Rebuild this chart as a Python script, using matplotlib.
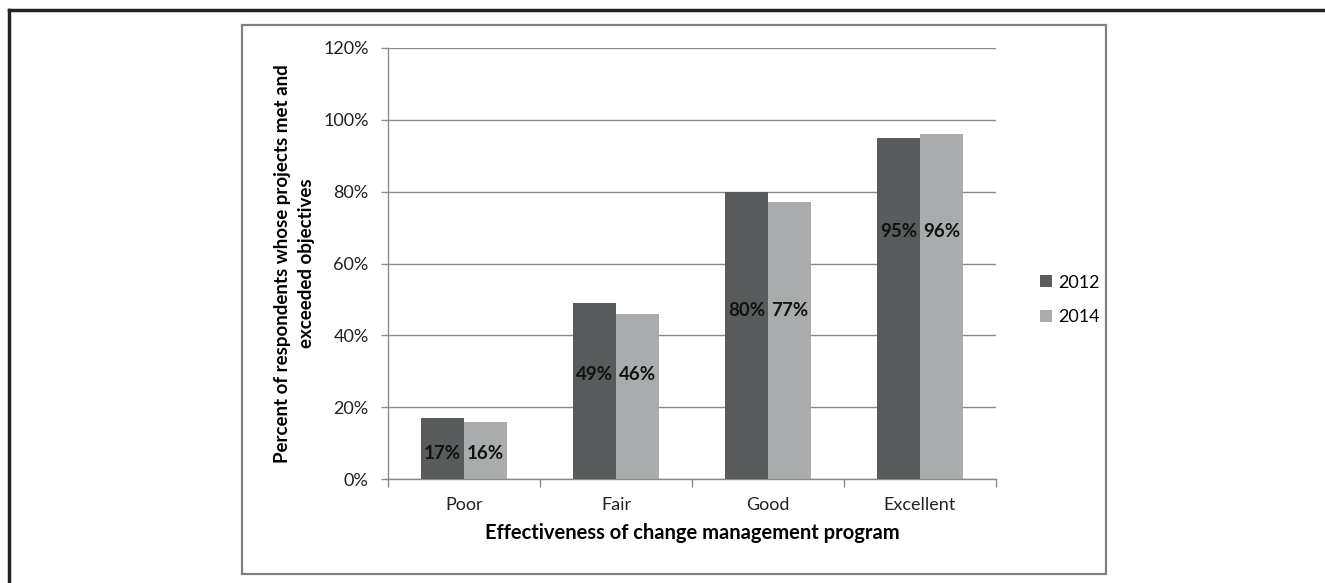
import numpy as np
import matplotlib.pyplot as plt
from matplotlib.patches import Rectangle
from matplotlib.lines import Line2D

categories = ["Poor", "Fair", "Good", "Excellent"]
vals_2012 = [17, 49, 80, 95]
vals_2014 = [16, 46, 77, 96]
# height (in %) where the data labels sit
label_y = [7.2, 29, 47, 69]
yticks = [0, 20, 40, 60, 80, 100, 120]

plt.rcParams['font.family'] = ['Lato', 'DejaVu Sans']

W, H = 1325, 583
fig = plt.figure(figsize=(W / 100, H / 100), dpi=100)

# outer frame (top and left only) and inner chart frame
fig.add_artist(Line2D([8.5 / W, 8.5 / W], [0, 1 - 9.5 / H], transform=fig.transFigure,
                      color="#222222", lw=2.5))
fig.add_artist(Line2D([8.5 / W, 1], [1 - 9.5 / H, 1 - 9.5 / H], transform=fig.transFigure,
                      color="#222222", lw=2.5))
fig.add_artist(Rectangle((242 / W, 1 - 574 / H), (1106 - 242) / W, (574 - 25) / H,
                         transform=fig.transFigure, fill=False, ec="#808080", lw=1.6))

ax = fig.add_axes([388 / W, 1 - 479 / H, (996 - 388) / W, (479 - 48) / H])

x = np.arange(len(categories))
w = 0.283
dark = "#585c5d"
light = "#a9acad"
ax.bar(x - w / 2, vals_2012, w, color=dark, label="2012", zorder=3)
ax.bar(x + w / 2, vals_2014, w, color=light, label="2014", zorder=3)

for i in range(len(categories)):
    ax.text(x[i] - w / 2, label_y[i], f"{vals_2012[i]}%", ha="center", va="center",
            fontsize=13.5, fontweight="bold", color="#111111", zorder=4)
    ax.text(x[i] + w / 2, label_y[i], f"{vals_2014[i]}%", ha="center", va="center",
            fontsize=13.5, fontweight="bold", color="#111111", zorder=4)

ax.set_xlim(-0.5, len(categories) - 0.5)
ax.set_ylim(0, 120)
ax.set_yticks(yticks)
ax.set_yticklabels([f"{t}%" for t in yticks], fontsize=13, color="#222222")
ax.yaxis.grid(True, color="#8a8a8a", lw=1, zorder=0)

ax.set_xticks(x)
ax.set_xticklabels(categories, fontsize=13, color="#222222")
ax.set_xticks(np.arange(-0.5, len(categories)), minor=True)
ax.tick_params(axis="x", which="major", length=0, pad=13)
ax.tick_params(axis="x", which="minor", length=6, color="#8a8a8a", width=1)
ax.tick_params(axis="y", length=5, color="#8a8a8a", width=1, pad=9)

for s in ["top", "right"]:
    ax.spines[s].set_visible(False)
for s in ["left", "bottom"]:
    ax.spines[s].set_color("#8a8a8a")
    ax.spines[s].set_linewidth(1)

ax.set_xlabel("Effectiveness of change management program", fontsize=14.5,
              fontweight="bold", labelpad=7)
ax.set_ylabel("Percent of respondents whose projects met and\nexceeded objectives",
              fontsize=13.5, fontweight="bold", labelpad=6, linespacing=1.45)

ax.legend(loc="center left", bbox_to_anchor=(1024 / W, 1 - 300 / H),
          bbox_transform=fig.transFigure, frameon=False, fontsize=13,
          handlelength=0.65, handleheight=0.65, handletextpad=0.35, labelspacing=1.05)

fig.savefig("out.png", dpi=100)
